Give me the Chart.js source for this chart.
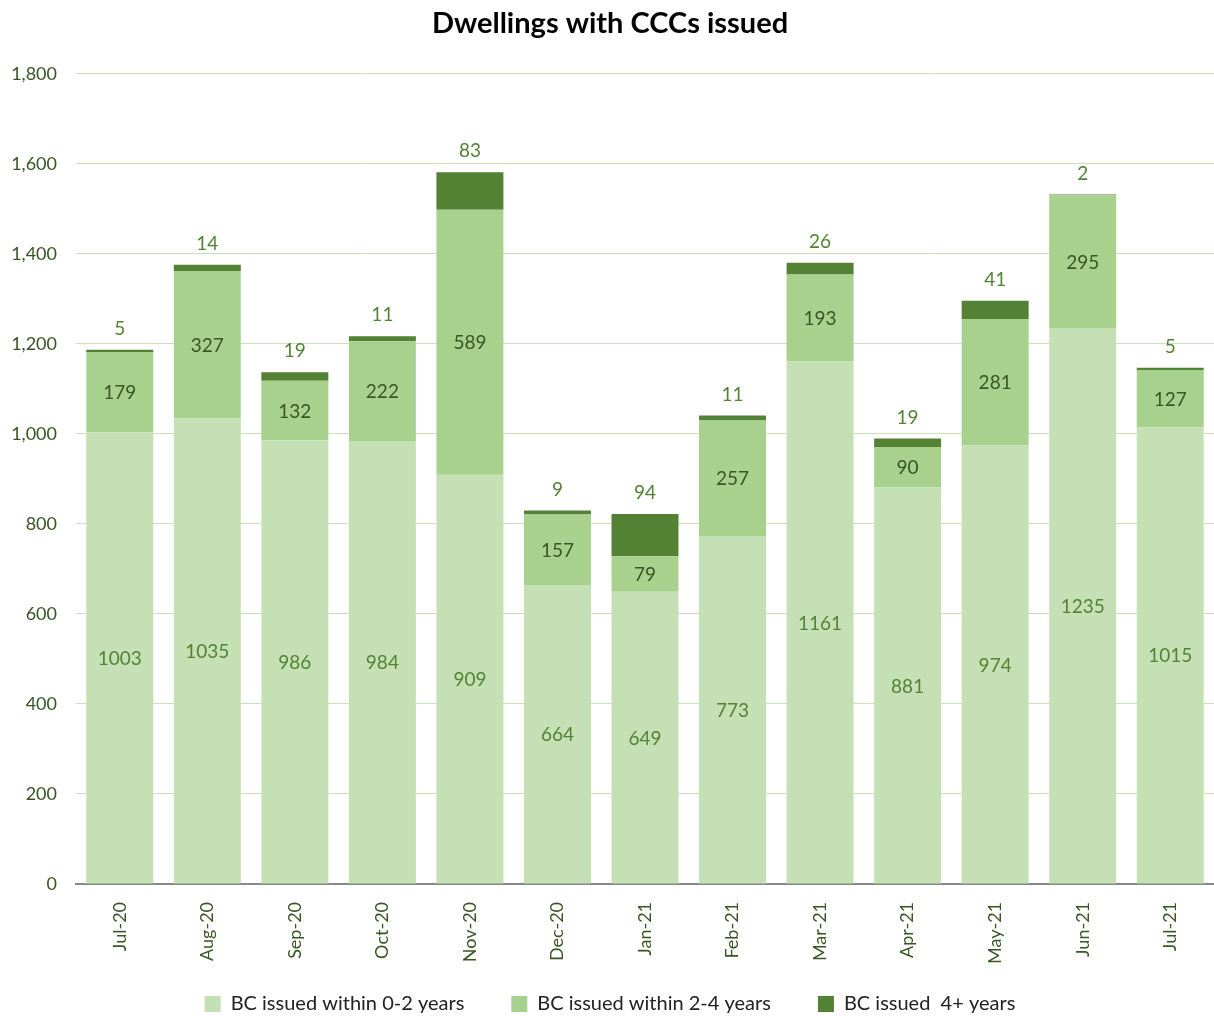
<!DOCTYPE html>
<html>
<head>
<meta charset="utf-8">
<script src="https://cdn.jsdelivr.net/npm/chart.js@4/dist/chart.umd.min.js"></script>
<style>
html,body{margin:0;padding:0;background:#fff;overflow:hidden;}
#wrap{width:1214px;height:1016px;}
</style>
</head>
<body>
<div id="wrap"><canvas id="c" width="1214" height="1016"></canvas></div>
<script>
const categories = ["Jul-20","Aug-20","Sep-20","Oct-20","Nov-20","Dec-20","Jan-21","Feb-21","Mar-21","Apr-21","May-21","Jun-21","Jul-21"];
const within02 = [1003,1035,986,984,909,664,649,773,1161,881,974,1235,1015];
const within24 = [179,327,132,222,589,157,79,257,193,90,281,295,127];
const over4 = [5,14,19,11,83,9,94,11,26,19,41,2,5];
const seriesNames = ["BC issued within 0-2 years","BC issued within 2-4 years","BC issued  4+ years"];
const yTicks = [0,200,400,600,800,1000,1200,1400,1600,1800];

const FONT = "Lato, 'Open Sans', sans-serif";
const LEGEND_SHRINK = 27;

const labelPlugin = {
  id: 'segLabels',
  afterInit(chart) {
    const lg = chart.legend;
    if (!lg) return;
    const fit = lg.fit.bind(lg);
    lg.fit = function () { fit(); this.height -= LEGEND_SHRINK; };
    const drawInner = lg._draw.bind(lg);
    lg._draw = function () {
      const c = this.ctx; c.save(); c.translate(0, -LEGEND_SHRINK); drawInner(); c.restore();
    };
  },
  afterDatasetsDraw(chart) {
    const ctx = chart.ctx;
    ctx.save();
    ctx.font = "19px " + FONT;
    ctx.textAlign = 'center';
    ctx.textBaseline = 'middle';
    const colors = ['#548235', '#375623', '#548235'];
    chart.data.datasets.forEach((ds, di) => {
      const meta = chart.getDatasetMeta(di);
      meta.data.forEach((bar, i) => {
        const v = ds.data[i];
        ctx.fillStyle = colors[di];
        if (di < 2) {
          ctx.fillText(String(v), bar.x, (bar.y + bar.base) / 2 + 1);
        } else {
          ctx.fillText(String(v), bar.x, bar.y - 21);
        }
      });
    });
    ctx.restore();
  }
};

new Chart(document.getElementById('c'), {
  type: 'bar',
  data: {
    labels: categories,
    datasets: [
      {label: seriesNames[0], data: within02, backgroundColor: '#C5E0B4', borderWidth: 0},
      {label: seriesNames[1], data: within24, backgroundColor: '#A9D18E', borderWidth: 0},
      {label: seriesNames[2], data: over4, backgroundColor: '#548235', borderWidth: 0}
    ]
  },
  options: {
    responsive: false,
    animation: false,
    datasets: {bar: {categoryPercentage: 1, barPercentage: 0.765}},
    layout: {padding: {left: 6, right: 0, top: 0, bottom: -8}},
    plugins: {
      title: {
        display: true,
        text: 'Dwellings with CCCs issued',
        color: '#000',
        font: {family: FONT, size: 29, weight: 'bold'},
        padding: {top: 6, bottom: 33}
      },
      legend: {
        position: 'bottom',
        labels: {
          color: '#222',
          font: {family: FONT, size: 20},
          boxWidth: 16, boxHeight: 16,
          padding: 47
        }
      },
      tooltip: {enabled: false}
    },
    scales: {
      x: {
        stacked: true,
        grid: {display: false},
        border: {color: '#888888', width: 2},
        ticks: {color: '#375623', font: {family: FONT, size: 18}, minRotation: 90, maxRotation: 90, padding: 10}
      },
      y: {
        stacked: true,
        min: 0, max: 1800,
        afterBuildTicks(scale) { scale.ticks = yTicks.map(v => ({value: v})); },
        afterFit(scale) { scale.width = 70; },
        grid: {color: '#C9E2BA', lineWidth: 1, drawTicks: false},
        border: {display: false},
        ticks: {
          color: '#375623', font: {family: FONT, size: 18}, padding: 19,
          callback: v => v.toLocaleString('en-US')
        }
      }
    }
  },
  plugins: [labelPlugin]
});
</script>
</body>
</html>
